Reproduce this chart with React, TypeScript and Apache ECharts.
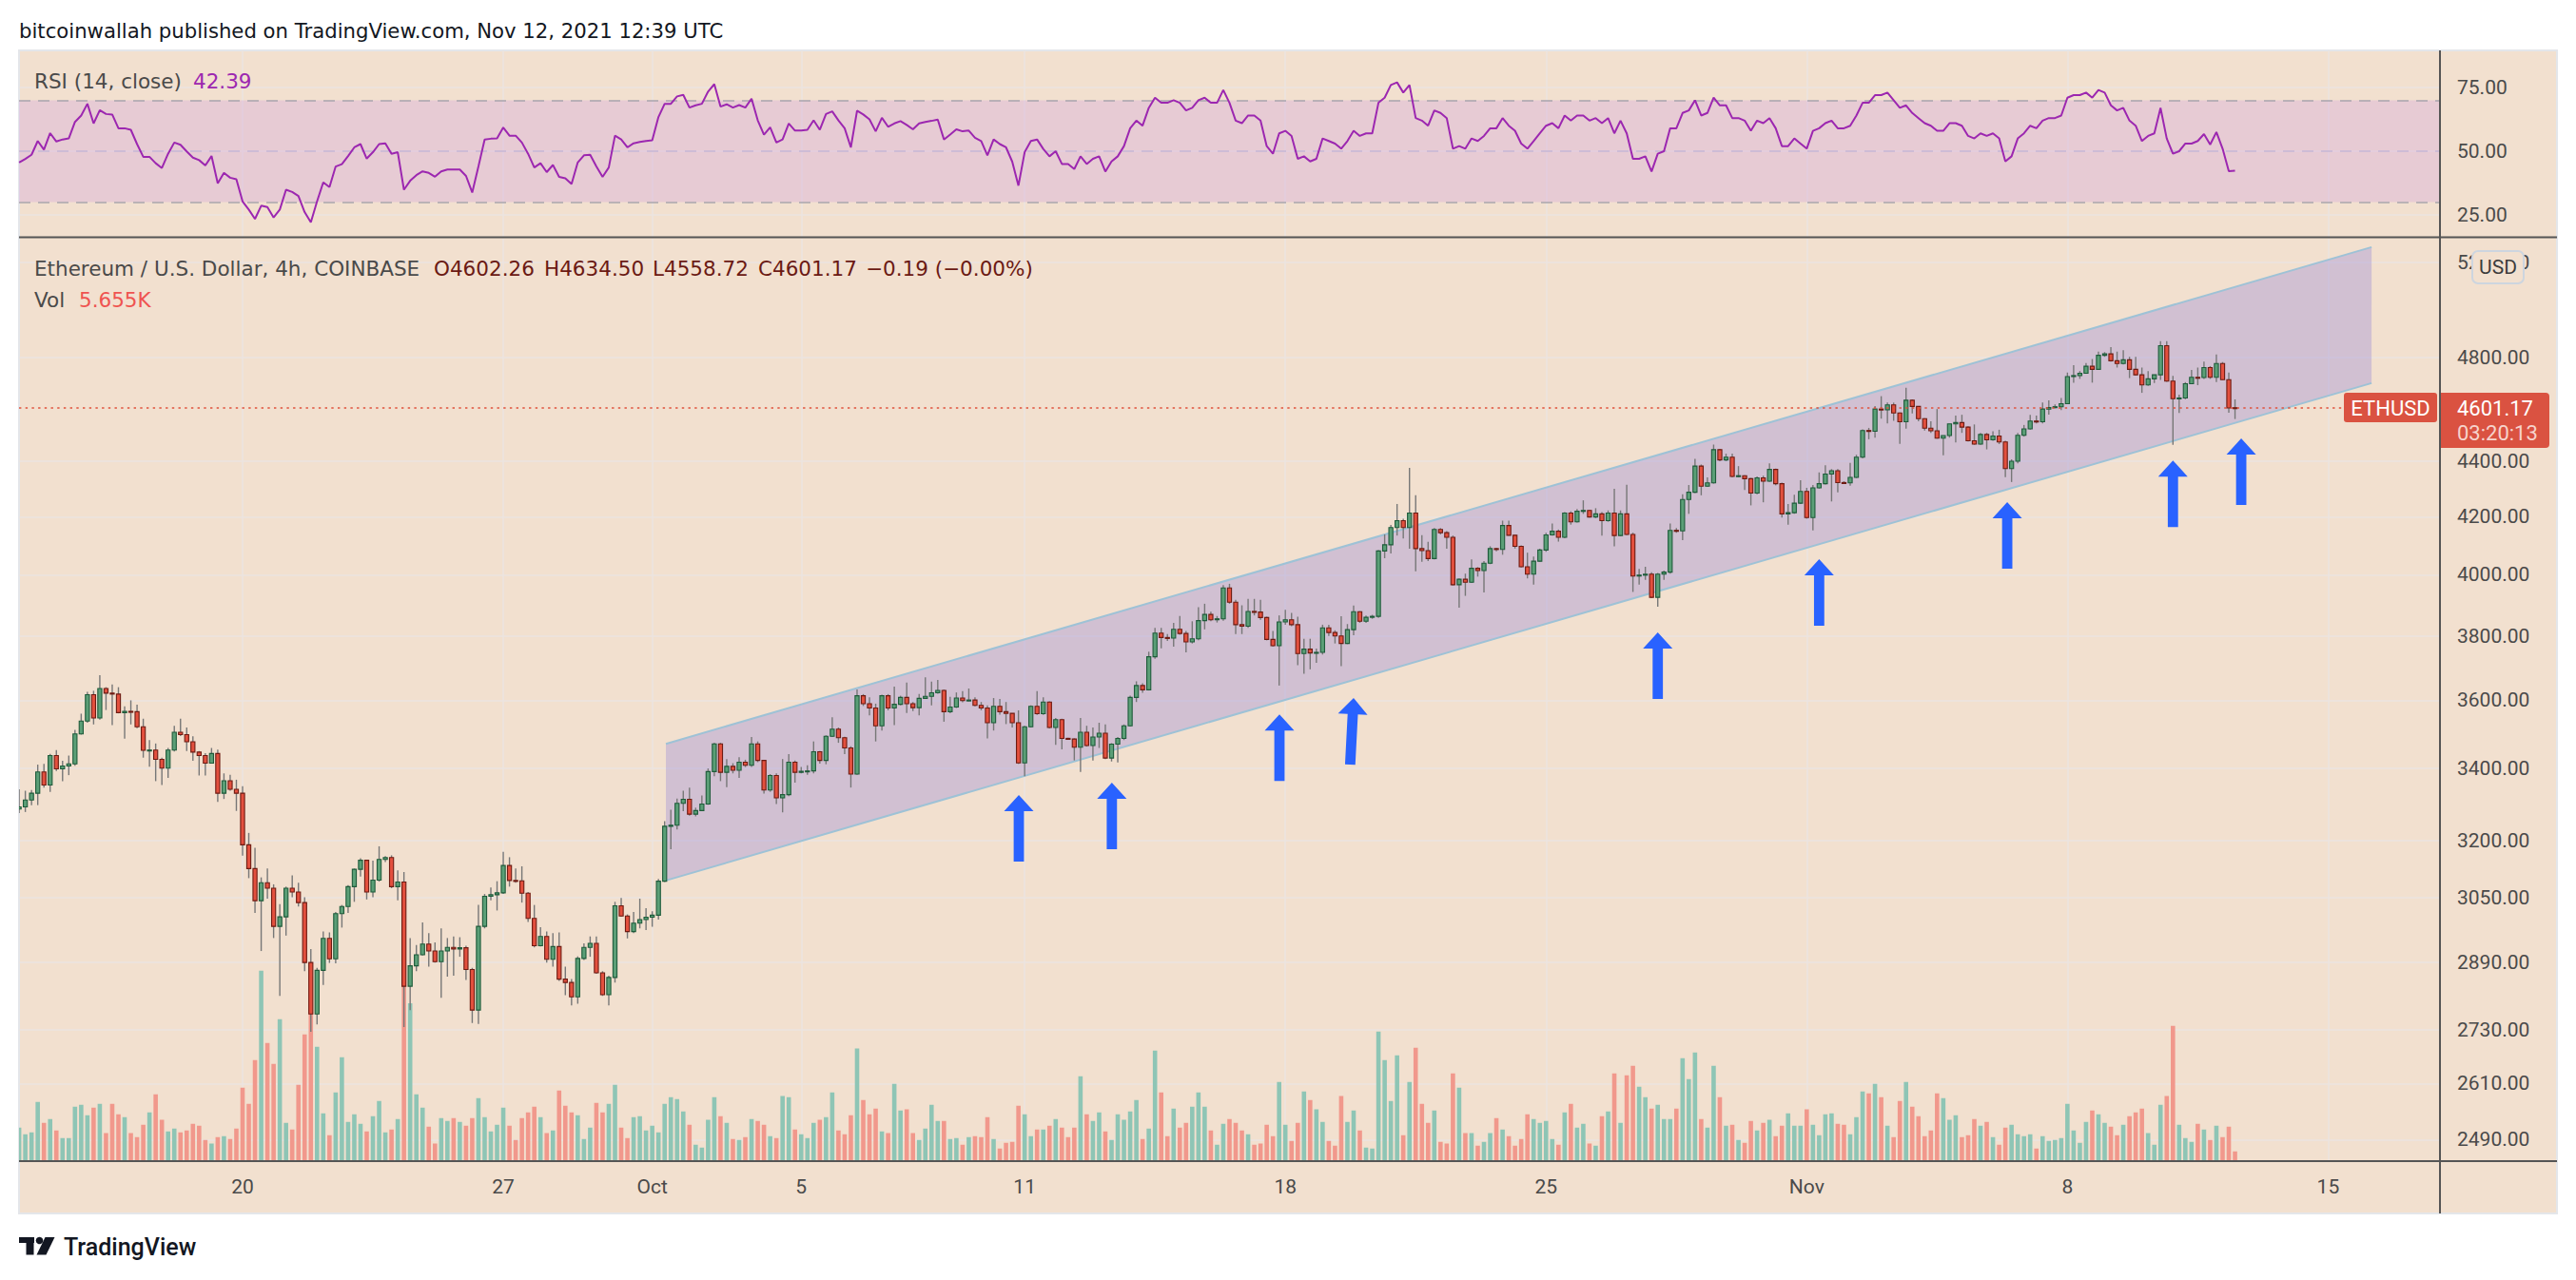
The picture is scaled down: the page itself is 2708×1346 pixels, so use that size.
import React, { useEffect, useRef } from "react";
import * as echarts from "echarts";

// ---------- data ----------
const START_UTC = Date.UTC(2021, 8, 14, 0, 0); // first 4h bar
const BAR_MS = 4 * 3600 * 1000;

// [open, high, low, close] per 4h bar (ETH/USD, Coinbase)
const ohlc: number[][] = [
  [3286,3341,3275,3292],[3292,3337,3278,3311],[3311,3339,3297,3330],[3330,3411,3297,3390],[3390,3413,3346,3353],[3353,3442,3334,3437],
  [3437,3453,3393,3399],[3399,3422,3364,3407],[3407,3437,3381,3413],[3413,3512,3408,3500],[3500,3560,3498,3538],[3538,3626,3533,3617],
  [3617,3629,3528,3547],[3547,3677,3542,3636],[3636,3640,3571,3622],[3622,3648,3526,3619],[3619,3640,3561,3563],[3563,3582,3486,3567],
  [3567,3600,3528,3566],[3566,3587,3517,3521],[3521,3545,3431,3452],[3452,3482,3405,3453],[3453,3472,3364,3426],[3426,3431,3353,3401],
  [3401,3459,3373,3453],[3453,3524,3449,3505],[3505,3545,3494,3498],[3498,3519,3450,3477],[3477,3493,3422,3447],[3447,3450,3380,3437],
  [3437,3444,3380,3415],[3415,3459,3414,3443],[3443,3454,3306,3330],[3330,3386,3314,3365],[3365,3382,3337,3341],[3341,3368,3281,3330],
  [3330,3350,3160,3189],[3189,3221,3101,3126],[3126,3181,3012,3043],[3043,3103,2917,3089],[3089,3126,3048,3075],[3075,3085,2949,2978],
  [2978,3034,2809,3002],[3002,3079,2955,3075],[3075,3108,3052,3065],[3065,3089,3028,3038],[3038,3052,2868,2889],[2889,2922,2726,2767],
  [2767,2876,2743,2870],[2870,2965,2835,2948],[2948,2963,2888,2898],[2898,3014,2887,3010],[3010,3032,2975,3028],[3028,3083,3012,3079],
  [3079,3126,3040,3124],[3124,3153,3105,3148],[3148,3149,3046,3065],[3065,3147,3052,3096],[3096,3185,3092,3150],[3150,3159,3143,3155],
  [3155,3161,3075,3079],[3079,3121,3044,3091],[3091,3117,2737,2832],[2832,2949,2776,2881],[2881,2932,2868,2908],[2908,2988,2906,2934],
  [2934,2961,2879,2917],[2917,2938,2889,2891],[2891,2973,2805,2917],[2917,2949,2855,2926],[2926,2953,2857,2922],[2922,2951,2903,2925],
  [2925,2930,2847,2872],[2872,2876,2746,2776],[2776,3032,2744,2978],[2978,3060,2973,3054],[3054,3077,3044,3058],[3058,3093,3018,3063],
  [3063,3170,3060,3134],[3134,3156,3079,3095],[3095,3126,3089,3094],[3094,3132,3038,3062],[3062,3065,2989,2998],[2998,3032,2926,2930],
  [2930,2976,2928,2953],[2953,2965,2889,2897],[2897,2961,2879,2928],[2928,2963,2845,2849],[2849,2879,2811,2841],[2841,2849,2787,2807],
  [2807,2904,2791,2899],[2899,2936,2895,2926],[2926,2953,2903,2936],[2936,2953,2862,2864],[2864,2868,2809,2812],[2812,2857,2787,2853],
  [2853,3040,2841,3030],[3030,3050,3002,3004],[3004,3008,2948,2965],[2965,3014,2961,2986],[2986,3048,2973,2995],[2995,3024,2969,3001],
  [3001,3016,2977,3006],[3006,3099,2995,3093],[3093,3253,3091,3239],[3239,3284,3177,3242],[3242,3315,3230,3302],[3302,3337,3280,3313],
  [3313,3346,3268,3272],[3272,3290,3266,3282],[3282,3324,3280,3300],[3300,3400,3298,3391],[3391,3474,3378,3471],[3471,3474,3364,3389],
  [3389,3427,3347,3406],[3406,3415,3386,3395],[3395,3432,3373,3418],[3418,3425,3404,3409],[3409,3491,3404,3471],[3471,3478,3418,3423],
  [3423,3425,3329,3339],[3339,3384,3334,3380],[3380,3386,3300,3317],[3317,3427,3277,3326],[3326,3441,3322,3418],[3418,3423,3360,3389],
  [3389,3404,3386,3392],[3392,3409,3382,3393],[3393,3478,3386,3448],[3448,3450,3414,3423],[3423,3496,3412,3493],[3493,3549,3491,3514],
  [3514,3519,3474,3489],[3489,3492,3441,3459],[3459,3464,3346,3384],[3384,3633,3382,3614],[3614,3619,3583,3590],[3590,3609,3555,3577],
  [3577,3590,3478,3524],[3524,3617,3510,3614],[3614,3619,3570,3577],[3577,3642,3526,3588],[3588,3614,3585,3609],[3609,3654,3562,3590],
  [3590,3595,3568,3578],[3578,3619,3555,3606],[3606,3670,3604,3612],[3612,3657,3585,3623],[3623,3662,3620,3630],[3630,3633,3536,3566],
  [3566,3611,3561,3580],[3580,3624,3577,3607],[3607,3628,3594,3599],[3599,3636,3597,3601],[3601,3609,3582,3585],[3585,3595,3570,3577],
  [3577,3585,3487,3533],[3533,3607,3510,3582],[3582,3604,3557,3566],[3566,3595,3529,3561],[3561,3561,3519,3533],[3533,3570,3413,3416],
  [3416,3524,3378,3521],[3521,3585,3519,3582],[3582,3628,3556,3560],[3560,3609,3556,3595],[3595,3597,3516,3519],[3519,3547,3468,3542],
  [3542,3545,3455,3487],[3487,3489,3483,3485],[3485,3487,3423,3461],[3461,3547,3390,3505],[3505,3524,3463,3466],[3466,3519,3423,3491],
  [3491,3533,3459,3502],[3502,3528,3427,3430],[3430,3473,3420,3470],[3470,3491,3417,3487],[3487,3528,3482,3524],[3524,3614,3522,3609],
  [3609,3658,3595,3645],[3645,3652,3623,3632],[3632,3750,3630,3734],[3734,3826,3728,3809],[3809,3826,3761,3795],[3795,3806,3784,3793],
  [3793,3842,3766,3821],[3821,3864,3804,3808],[3808,3816,3748,3781],[3781,3847,3776,3791],[3791,3893,3786,3849],[3849,3904,3821,3869],
  [3869,3878,3847,3852],[3852,3864,3843,3855],[3855,3966,3849,3956],[3956,3970,3904,3909],[3909,3917,3806,3836],[3836,3899,3806,3831],
  [3831,3920,3826,3879],[3879,3920,3866,3877],[3877,3917,3852,3859],[3859,3862,3786,3789],[3789,3816,3766,3769],[3769,3866,3645,3845],
  [3845,3884,3836,3852],[3852,3874,3831,3836],[3836,3862,3708,3744],[3744,3791,3681,3758],[3758,3791,3695,3746],[3746,3760,3715,3748],
  [3748,3836,3741,3826],[3826,3836,3800,3811],[3811,3818,3776,3800],[3800,3863,3705,3776],[3776,3838,3774,3820],[3820,3898,3802,3878],
  [3878,3880,3842,3847],[3847,3866,3842,3860],[3860,3868,3855,3863],[3863,4084,3858,4081],[4081,4138,4056,4102],[4102,4171,4072,4162],
  [4162,4245,4134,4186],[4186,4193,4124,4162],[4162,4376,4089,4213],[4213,4276,4012,4089],[4089,4135,4044,4082],[4082,4112,4046,4055],
  [4055,4160,4052,4155],[4155,4160,4138,4144],[4144,4149,4089,4128],[4128,4134,3964,3967],[3967,3988,3891,3985],[3985,4004,3930,3975],
  [3975,4052,3973,4022],[4022,4026,3994,4014],[4014,4046,3941,4039],[4039,4097,4036,4089],[4089,4092,4080,4086],[4086,4186,4068,4169],
  [4169,4186,4134,4135],[4135,4137,4089,4097],[4097,4100,4025,4027],[4027,4075,3988,4002],[4002,4062,3967,4046],[4046,4089,4044,4084],
  [4084,4144,4078,4136],[4136,4176,4134,4149],[4149,4155,4113,4128],[4128,4216,4125,4213],[4213,4219,4172,4182],[4182,4227,4179,4219],
  [4219,4258,4210,4222],[4222,4224,4197,4199],[4199,4230,4195,4210],[4210,4216,4134,4186],[4186,4222,4182,4213],[4213,4299,4097,4134],
  [4134,4222,4132,4210],[4210,4314,4135,4138],[4138,4144,3943,3996],[3996,4020,3967,3999],[3999,4027,3983,4002],[4002,4009,3922,3925],
  [3925,4006,3894,4002],[4002,4014,3983,4009],[4009,4176,4004,4152],[4152,4160,4144,4150],[4150,4280,4118,4261],[4261,4313,4210,4287],
  [4287,4409,4284,4382],[4382,4388,4276,4309],[4309,4341,4306,4321],[4321,4462,4318,4443],[4443,4446,4400,4405],[4405,4428,4400,4415],
  [4415,4428,4341,4344],[4344,4382,4341,4347],[4347,4349,4295,4336],[4336,4339,4240,4284],[4284,4344,4280,4339],[4339,4347,4251,4327],
  [4327,4392,4324,4370],[4370,4373,4312,4318],[4318,4322,4197,4210],[4210,4245,4172,4214],[4214,4278,4210,4248],[4248,4330,4245,4290],
  [4290,4303,4193,4197],[4197,4313,4152,4303],[4303,4359,4300,4318],[4318,4385,4315,4353],[4353,4371,4254,4365],[4365,4371,4287,4322],
  [4322,4327,4318,4321],[4321,4394,4311,4341],[4341,4424,4338,4415],[4415,4519,4411,4515],[4515,4525,4482,4512],[4512,4609,4488,4597],
  [4597,4647,4560,4594],[4594,4622,4542,4613],[4613,4622,4552,4582],[4582,4584,4465,4548],[4548,4680,4522,4631],[4631,4634,4580,4607],
  [4607,4609,4550,4560],[4560,4562,4515,4524],[4524,4550,4506,4514],[4514,4597,4484,4486],[4486,4496,4422,4496],[4496,4540,4488,4540],
  [4540,4572,4470,4545],[4545,4575,4506,4528],[4528,4531,4474,4476],[4476,4538,4461,4464],[4464,4506,4461,4500],[4500,4506,4444,4480],
  [4480,4512,4476,4494],[4494,4518,4464,4472],[4472,4476,4342,4373],[4373,4407,4324,4400],[4400,4506,4392,4497],[4497,4536,4492,4521],
  [4521,4575,4518,4551],[4551,4572,4542,4548],[4548,4622,4542,4597],[4597,4631,4576,4603],[4603,4615,4600,4606],[4606,4640,4593,4618],
  [4618,4740,4616,4724],[4724,4769,4700,4728],[4728,4746,4715,4737],[4737,4778,4735,4765],[4765,4794,4700,4753],[4753,4824,4750,4809],
  [4809,4822,4803,4815],[4815,4842,4784,4787],[4787,4824,4760,4776],[4776,4830,4772,4791],[4791,4803,4718,4753],[4753,4803,4728,4731],
  [4731,4760,4660,4691],[4691,4746,4687,4715],[4715,4732,4699,4731],[4731,4867,4711,4848],[4848,4867,4703,4706],[4706,4727,4461,4637],
  [4637,4653,4582,4640],[4640,4702,4635,4696],[4696,4750,4694,4721],[4721,4760,4690,4720],[4720,4784,4715,4760],[4760,4766,4715,4721],
  [4721,4812,4702,4776],[4776,4782,4711,4712],[4712,4740,4583,4601.36],[4602.26,4634.5,4558.72,4601.17],
];

// volume per bar, thousands of ETH
const volumeK: number[] = [
  19.7,15.8,16.9,35.0,22.6,24.8, 18.0,13.5,13.5,32.1,33.3,27.1, 31.6,33.8,16.4,33.8,27.6,25.9, 16.4,14.1,21.4,28.8,39.5,24.3,
  17.5,19.2,16.9,18.0,22.0,20.9, 12.4,10.2,14.1,14.7,13.0,19.2, 43.4,33.8,59.8,112.8,69.9,57.5, 84.0,22.6,18.6,45.1,75.0,109.4,
  67.7,28.2,15.2,40.6,61.5,23.1, 27.6,22.0,17.5,26.5,35.5,16.9, 18.6,24.8,106.6,93.4,39.5,31.6, 20.3,10.2,25.4,23.7,25.4,23.1,
  20.9,25.4,37.2,25.9,17.5,21.4, 31.6,20.9,12.4,25.4,28.8,32.1, 25.9,16.4,18.0,41.7,32.7,28.8, 27.1,13.0,19.7,34.4,28.8,33.8,
  45.1,19.7,13.5,25.9,26.5,18.0, 20.9,16.9,33.8,37.8,36.7,29.3, 21.4,9.6,7.9,24.3,37.8,26.5, 22.6,13.0,12.4,14.1,24.8,23.7,
  21.4,14.7,13.5,38.4,37.8,18.6, 15.8,13.5,22.6,24.3,25.9,40.6, 18.0,15.8,27.1,66.6,36.1,27.6, 31.0,17.5,16.4,45.7,29.9,30.5,
  16.4,12.4,19.2,33.3,23.7,23.7, 13.0,13.5,9.6,14.1,14.7,14.1, 25.9,13.0,7.3,10.7,11.3,32.7, 27.6,14.7,18.6,18.6,20.9,24.8,
  19.7,14.1,19.7,50.2,27.6,23.7, 28.8,17.5,12.4,27.6,24.3,29.3, 36.1,13.0,19.2,65.4,40.6,14.7, 31.0,19.7,22.6,32.1,40.6,32.1,
  18.0,9.6,22.0,24.8,22.6,18.0, 15.8,9.6,10.2,21.4,14.7,46.8, 21.4,11.8,22.6,41.2,36.1,30.5, 23.1,11.8,9.0,38.4,23.1,29.9,
  18.0,7.9,7.3,76.7,59.8,35.5, 62.6,15.2,46.8,67.1,33.8,22.6, 29.9,11.3,10.2,51.9,43.4,16.4, 16.4,9.0,11.3,16.4,25.4,18.6,
  14.7,9.0,13.0,27.6,24.8,22.6, 23.7,13.0,9.6,28.8,33.8,19.7, 22.0,10.2,9.0,26.5,29.3,51.9, 22.6,50.8,56.4,44.0,37.8,31.0,
  33.3,24.8,24.8,31.0,60.9,48.5, 64.3,24.8,19.7,56.4,37.8,20.9, 21.4,12.4,10.7,23.7,18.0,22.6, 24.3,14.7,20.9,28.2,20.9,20.9,
  30.5,21.4,15.2,27.6,28.2,22.0, 21.4,15.8,25.9,41.2,40.0,45.7, 37.8,20.9,14.1,35.5,46.8,32.1, 26.5,14.7,18.0,40.0,37.2,24.3,
  27.1,14.1,15.2,24.8,20.9,23.1, 14.1,9.6,19.7,21.4,15.8,14.7, 15.8,7.3,14.7,11.8,12.4,13.5, 33.8,18.0,10.7,23.1,29.9,27.6,
  22.6,20.3,15.2,21.4,26.5,28.8, 31.0,16.4,9.6,33.3,38.4,80.1, 21.4,13.5,11.3,22.0,18.6,12.4, 20.9,14.1,20.3,5.655,
];

// RSI(14, close)
const rsi14: number[] = [
  45.6,47,48.6,54,50.6,57.1, 53.8,54.6,55,61.5,64,68.6, 60.9,66.1,64.6,64.4,59,59, 58.4,52.8,47.8,47.8,45.3,43.4,
  49,53.4,52.5,49.9,47.5,46.5, 44.4,48.1,37.4,41.5,39.6,39, 30.3,27.1,23.4,28.6,28.1,24, 27.1,34.9,34,32.4,26.1,22.1,
  30.3,37.8,35.9,44,44.9,48.1, 51.5,52.8,47.1,49.6,52.8,53.1, 49,49.6,34.9,38.4,40.6,42.1, 41.5,40,42.1,42.8,42.8,42.8,
  40.3,33.8,44,54.6,54.9,55, 59.3,56.1,56.1,53.4,49,43.6, 45.3,41.8,44.6,39.9,39.4,37.1, 45.6,48.4,48.6,44,39.9,43.6,
  56.1,54.6,51.5,53.1,53.6,54, 54.3,63.4,68.6,68.6,71.5,72.1, 67.1,68,68.6,73.4,76.3,67.5, 68.4,67.1,68.1,67.1,70.6,62.1,
  56.5,59.4,53.4,54.6,60.9,58.1, 58.1,58.4,62.1,58.4,64.6,65.6, 62.1,59,51.5,65.9,64.4,62.5, 57.8,63.1,59.6,60.9,61.8,60.3,
  58.6,60.9,61.5,61.9,62.4,54.6, 56.5,58.6,57.8,58.1,55.3,54, 48.4,54.6,52.8,51.5,45.9,36.5, 49.6,54,54.6,50.9,48,50,
  45,45,43,48,45,47, 48,42,46,48,52,59, 62,60,67,71,69,69, 70,69,66,67,70,71,
  69,69,74,69,62,61, 64,64,62,52,49,57, 58,56,47,48,46,47, 55,54,53,51,54,58,
  56,57,57,69,71,76, 77,73,76,63,62,60, 66,65,63,51,52,51, 55,54,56,59,59,63,
  60,58,53,51,54,57, 60,61,59,64,62,64, 64,62,63,61,63,57, 62,57,47,47,48,42,
  49,50,59,59,65,66, 70,64,65,71,68,68, 63,63,62,58,62,61, 63,59,52,52,55,53,
  51,58,59,61,62,59, 59,60,64,69,69,72, 72,73,70,67,68,65, 63,61,60,58,58,61,
  61,60,56,55,57,56, 57,55,46,48,55,57, 60,59,62,63,63,64, 71,72,72,73,71,74,
  73,68,66,67,62,60, 54,56,57,67,55,49, 50,53,53,54,56.7,52.6, 57.5,51,42.2,42.39,
];

const priceTicks = [2490, 2610, 2730, 2890, 3050, 3200, 3400, 3600, 3800, 4000, 4200, 4400, 4800, 5200];
const rsiTicks = [25, 50, 75];
const rsiBands = [30, 50, 70];
const dateTicks: number[][] = [[8, 20], [8, 27], [9, 1], [9, 5], [9, 11], [9, 18], [9, 25], [10, 1], [10, 8], [10, 15]];
const monthNames = ["Jan", "Feb", "Mar", "Apr", "May", "Jun", "Jul", "Aug", "Sep", "Oct", "Nov", "Dec"];

// parallel channel drawing: bar index and prices of its corners
const channelBars = [104.2, 379.0];
const channelUpper = [3471, 5266];
const channelLower = [3095, 4698];

// blue arrows: bar index, price at arrow tip, tilt (deg)
const arrowBars = [161.06, 176.05, 203.05, 215.0, 264.0, 290.0, 320.3, 347.0, 358.0];
const arrowTips = [3325, 3360, 3558, 3607, 3811, 4053, 4252, 4403, 4485];
const arrowTilt = [0, 0, 0, -3, 0, 0, 0, 0, 0];

const symbolName = "ETHUSD";
const countdown = "03:20:13";
const volLast = "5.655K";
const rsiLast = "42.39";

// ---------- styling ----------
const BG = "#f2e0cf";
const GRID_C = "#ebe5e1";
const AXIS_TXT = "#4a4a4a";
const UP = "#5b9f77";
const UP_B = "#1e5b3a";
const DN = "#e3503e";
const DN_B = "#6e1b12";
const WICK = "#777777";
const VOL_UP = "#8ec5b5";
const VOL_DN = "#f1988c";
const RSI_C = "#9c27b0";
const LABEL_RED = "#da5241";
const FONT = 'Roboto, "DejaVu Sans", sans-serif';
const LEGEND_FONT = '"DejaVu Sans", Verdana, sans-serif';

const LN4800 = Math.log(4800);
const PX_PER_LN = 1253;
const MAIN_TOP = 251;
const MAIN_BOT = 1220.7;
const LN_MAX = LN4800 + (376 - MAIN_TOP) / PX_PER_LN;
const LN_MIN = LN4800 - (MAIN_BOT - 376) / PX_PER_LN;

const tOf = (bar: number) => START_UTC + bar * BAR_MS;

function buildOption(): any {
  const n = ohlc.length;
  const last = ohlc[n - 1];
  const prev = ohlc[n - 2];
  const lastPrice = last[3];
  const chg = lastPrice - prev[3];
  const chgPct = (chg / prev[3]) * 100;
  const fmtSigned = (v: number, d: number) => (v < 0 ? "\u2212" : "+") + Math.abs(v).toFixed(d);

  const xMin = tOf(-0.0153);
  const xMax = tOf(390.02);
  const dateMs = dateTicks.map((d) => Date.UTC(2021, d[0], d[1]));
  const lnTicks = priceTicks.map((p) => Math.log(p));

  const candleData = ohlc.map((c, i) => [tOf(i), Math.log(c[0]), Math.log(c[1]), Math.log(c[2]), Math.log(c[3])]);
  const volData = volumeK.map((v, i) => [tOf(i), v, ohlc[i] && ohlc[i][3] >= ohlc[i][0] ? 1 : 0]);
  const rsiData = rsi14.map((v, i) => [tOf(i), v]);
  const chData = [[tOf(channelBars[0]), Math.log(channelUpper[0]), Math.log(channelLower[0]), tOf(channelBars[1]), Math.log(channelUpper[1]), Math.log(channelLower[1])]];
  const arrowData = arrowBars.map((b, i) => [tOf(b), Math.log(arrowTips[i]), arrowTilt[i]]);

  const txt = (x: number, y: number, text: string, fill: string, size = 21.5, weight: any = "normal", family = LEGEND_FONT) => ({
    type: "text",
    x,
    y,
    z: 100,
    silent: true,
    style: { text, fill, fontSize: size, fontFamily: family, fontWeight: weight, textAlign: "left", textVerticalAlign: "middle", align: "left", verticalAlign: "middle" },
  });
  const sep = (x1: number, y1: number, x2: number, y2: number) => ({
    type: "line",
    z: 100,
    silent: true,
    shape: { x1, y1, x2, y2 },
    style: { stroke: "#555555", lineWidth: 2 },
  });

  const ohlcColor = "#6b1a14";
  const graphic: any[] = [
    txt(20, 32, "bitcoinwallah published on TradingView.com, Nov 12, 2021 12:39 UTC", "#131722", 21.2),
    txt(36, 85, "RSI (14, close)", AXIS_TXT),
    txt(203, 85, rsiLast, RSI_C),
    txt(36, 282, "Ethereum / U.S. Dollar, 4h, COINBASE", AXIS_TXT),
    txt(456, 282, "O" + last[0].toFixed(2), ohlcColor),
    txt(572, 282, "H" + last[1].toFixed(2), ohlcColor),
    txt(686, 282, "L" + last[2].toFixed(2), ohlcColor),
    txt(797, 282, "C" + last[3].toFixed(2), ohlcColor),
    txt(910, 282, fmtSigned(chg, 2) + " (" + fmtSigned(chgPct, 2) + "%)", ohlcColor),
    txt(36, 315, "Vol", AXIS_TXT),
    txt(83, 315, volLast, "#ef5350"),
    sep(20, 249.5, 2688, 249.5),
    sep(2565, 53, 2565, 1276),
    sep(20, 1221, 2688, 1221),
    {
      type: "rect",
      z: 101,
      silent: true,
      shape: { x: 2599, y: 264, width: 54, height: 34, r: 6 },
      style: { fill: BG, stroke: "#cdd5df", lineWidth: 2 },
    },
    {
      type: "text",
      z: 102,
      silent: true,
      x: 2626,
      y: 281,
      style: { text: "USD", fill: "#3c3c3c", fontSize: 21, fontFamily: FONT, textAlign: "center", textVerticalAlign: "middle", align: "center", verticalAlign: "middle" },
    },
    // TradingView logo
    { type: "rect", z: 100, silent: true, shape: { x: 20, y: 1301, width: 16, height: 6 }, style: { fill: "#131722" } },
    { type: "rect", z: 100, silent: true, shape: { x: 27.5, y: 1301, width: 8, height: 18.5 }, style: { fill: "#131722" } },
    { type: "circle", z: 100, silent: true, shape: { cx: 41.5, cy: 1304.5, r: 3.8 }, style: { fill: "#131722" } },
    {
      type: "polygon",
      z: 100,
      silent: true,
      shape: { points: [[47.5, 1301], [57.5, 1301], [48.5, 1319.5], [38.5, 1319.5]] },
      style: { fill: "#131722" },
    },
    txt(67, 1311, "TradingView", "#131722", 25, 500, FONT),
  ];

  return {
    animation: false,
    backgroundColor: "transparent",
    textStyle: { fontFamily: FONT },
    graphic,
    grid: [
      { left: 20, top: 53, width: 2545, height: 196, containLabel: false },
      { left: 20, top: MAIN_TOP, width: 2545, height: MAIN_BOT - MAIN_TOP, containLabel: false },
    ],
    xAxis: [
      {
        type: "value",
        gridIndex: 0,
        min: xMin,
        max: xMax,
        axisLine: { show: false },
        axisTick: { show: false, customValues: dateMs },
        axisLabel: { show: false, customValues: dateMs },
        splitLine: { show: true, lineStyle: { color: GRID_C, width: 1.5 } },
      },
      {
        type: "value",
        gridIndex: 1,
        min: xMin,
        max: xMax,
        axisLine: { show: false },
        axisTick: { show: false, customValues: dateMs },
        axisLabel: {
          show: true,
          customValues: dateMs,
          margin: 17,
          color: AXIS_TXT,
          fontSize: 21,
          fontFamily: FONT,
          formatter: (v: number) => {
            const d = new Date(v);
            return d.getUTCDate() === 1 ? monthNames[d.getUTCMonth()] : String(d.getUTCDate());
          },
        },
        splitLine: { show: true, lineStyle: { color: GRID_C, width: 1.5 } },
      },
    ],
    yAxis: [
      {
        type: "value",
        gridIndex: 0,
        position: "right",
        min: 50 - (249 - 159) / 2.68,
        max: 50 + (159 - 53) / 2.68,
        axisLine: { show: false },
        axisTick: { show: false, customValues: rsiTicks },
        axisLabel: { customValues: rsiTicks, margin: 18, color: AXIS_TXT, fontSize: 21, fontFamily: FONT, formatter: (v: number) => v.toFixed(2) },
        splitLine: { show: true, lineStyle: { color: GRID_C, width: 1.5 } },
      },
      {
        type: "value",
        gridIndex: 1,
        position: "right",
        min: LN_MIN,
        max: LN_MAX,
        axisLine: { show: false },
        axisTick: { show: false, customValues: lnTicks },
        axisLabel: { customValues: lnTicks, margin: 18, color: AXIS_TXT, fontSize: 21, fontFamily: FONT, formatter: (v: number) => Math.exp(v).toFixed(2) },
        splitLine: { show: true, lineStyle: { color: GRID_C, width: 1.5 } },
      },
      {
        type: "value",
        gridIndex: 1,
        position: "right",
        min: 0,
        max: (MAIN_BOT - MAIN_TOP) * 0.564,
        show: false,
        splitLine: { show: false },
      },
    ],
    series: [
      {
        type: "line",
        name: "RSI",
        xAxisIndex: 0,
        yAxisIndex: 0,
        data: rsiData,
        symbol: "none",
        showSymbol: false,
        z: 5,
        lineStyle: { color: RSI_C, width: 2 },
        markArea: {
          silent: true,
          itemStyle: { color: "rgba(217,173,220,0.42)" },
          data: [[{ yAxis: rsiBands[0] }, { yAxis: rsiBands[2] }]],
        },
        markLine: {
          silent: true,
          symbol: ["none", "none"],
          label: { show: false },
          data: [
            { yAxis: rsiBands[2], lineStyle: { color: "#a9a5ad", width: 1.5, type: [12, 8] } },
            { yAxis: rsiBands[1], lineStyle: { color: "#c6b7d4", width: 1.5, type: [12, 8] } },
            { yAxis: rsiBands[0], lineStyle: { color: "#a9a5ad", width: 1.5, type: [12, 8] } },
          ],
        },
      },
      {
        type: "custom",
        name: "channel",
        xAxisIndex: 1,
        yAxisIndex: 1,
        z: 1,
        silent: true,
        data: chData,
        encode: { x: [0, 3], y: [1, 2, 4, 5] },
        renderItem: (_p: any, api: any) => {
          const ul = api.coord([api.value(0), api.value(1)]);
          const ll = api.coord([api.value(0), api.value(2)]);
          const ur = api.coord([api.value(3), api.value(4)]);
          const lr = api.coord([api.value(3), api.value(5)]);
          return {
            type: "group",
            children: [
              { type: "polygon", shape: { points: [ul, ur, lr, ll] }, style: { fill: "rgba(160,146,214,0.40)" } },
              { type: "line", shape: { x1: ul[0], y1: ul[1], x2: ur[0], y2: ur[1] }, style: { stroke: "#9ec2d6", lineWidth: 2 } },
              { type: "line", shape: { x1: ll[0], y1: ll[1], x2: lr[0], y2: lr[1] }, style: { stroke: "#9ec2d6", lineWidth: 2 } },
            ],
          };
        },
      },
      {
        type: "custom",
        name: "volume",
        xAxisIndex: 1,
        yAxisIndex: 2,
        z: 2,
        silent: true,
        clip: true,
        data: volData,
        encode: { x: 0, y: 1 },
        renderItem: (_p: any, api: any) => {
          const top = api.coord([api.value(0), api.value(1)]);
          const base = api.coord([api.value(0), 0]);
          return {
            type: "rect",
            shape: { x: top[0] - 2.3, y: top[1], width: 4.6, height: base[1] - top[1] },
            style: { fill: api.value(2) ? VOL_UP : VOL_DN },
          };
        },
      },
      {
        type: "custom",
        name: "candles",
        xAxisIndex: 1,
        yAxisIndex: 1,
        z: 3,
        silent: true,
        clip: true,
        data: candleData,
        encode: { x: 0, y: [1, 2, 3, 4] },
        renderItem: (_p: any, api: any) => {
          const x = api.value(0);
          const o = api.value(1);
          const h = api.value(2);
          const l = api.value(3);
          const c = api.value(4);
          const up = c >= o;
          const pO = api.coord([x, o]);
          const pC = api.coord([x, c]);
          const pH = api.coord([x, Math.max(h, o, c)]);
          const pL = api.coord([x, Math.min(l, o, c)]);
          const top = Math.min(pO[1], pC[1]);
          const hh = Math.max(Math.abs(pO[1] - pC[1]), 1);
          return {
            type: "group",
            children: [
              { type: "line", shape: { x1: pO[0], y1: pH[1], x2: pO[0], y2: pL[1] }, style: { stroke: WICK, lineWidth: 1.4 } },
              {
                type: "rect",
                shape: { x: pO[0] - 2.1, y: top, width: 4.2, height: hh },
                style: { fill: up ? UP : DN, stroke: up ? UP_B : DN_B, lineWidth: 1.1 },
              },
            ],
          };
        },
      },
      {
        type: "custom",
        name: "lastPriceLine",
        xAxisIndex: 1,
        yAxisIndex: 1,
        z: 4,
        silent: true,
        data: [[xMin, xMax, Math.log(lastPrice)]],
        encode: { x: [0, 1], y: 2 },
        renderItem: (_p: any, api: any) => {
          const a = api.coord([api.value(0), api.value(2)]);
          const b = api.coord([api.value(1), api.value(2)]);
          return {
            type: "line",
            shape: { x1: a[0], y1: a[1], x2: b[0], y2: b[1] },
            style: { stroke: "#e0513d", lineWidth: 1.6, lineDash: [2.4, 4.3] },
          };
        },
      },
      {
        type: "custom",
        name: "arrows",
        xAxisIndex: 1,
        yAxisIndex: 1,
        z: 6,
        silent: true,
        data: arrowData,
        encode: { x: 0, y: 1 },
        renderItem: (_p: any, api: any) => {
          const p = api.coord([api.value(0), api.value(1)]);
          const tilt = (api.value(2) * Math.PI) / 180;
          return {
            type: "group",
            x: p[0],
            y: p[1],
            rotation: tilt,
            children: [
              {
                type: "polygon",
                shape: { points: [[0, 0], [15.5, 17], [5.4, 17], [5.4, 70], [-5.4, 70], [-5.4, 17], [-15.5, 17]] },
                style: { fill: "#2962ff" },
              },
            ],
          };
        },
      },
      {
        type: "custom",
        name: "priceLabels",
        xAxisIndex: 1,
        yAxisIndex: 1,
        z: 20,
        silent: true,
        clip: false,
        data: [[tOf(n - 1), Math.log(lastPrice)]],
        encode: { x: 0, y: 1 },
        renderItem: (params: any, api: any) => {
          const y = api.coord([api.value(0), api.value(1)])[1];
          const right = params.coordSys.x + params.coordSys.width;
          return {
            type: "group",
            children: [
              { type: "rect", shape: { x: right - 101, y: y - 16, width: 98, height: 31, r: 3 }, style: { fill: LABEL_RED } },
              {
                type: "text",
                x: right - 52,
                y: y,
                style: { text: symbolName, fill: "#ffffff", fontSize: 22, fontFamily: FONT, textAlign: "center", textVerticalAlign: "middle", align: "center", verticalAlign: "middle" },
              },
              { type: "rect", shape: { x: right, y: y - 16, width: 115, height: 58, r: [0, 4, 4, 0] }, style: { fill: LABEL_RED } },
              {
                type: "text",
                x: right + 18,
                y: y,
                style: { text: lastPrice.toFixed(2), fill: "#ffffff", fontSize: 22, fontFamily: FONT, textAlign: "left", textVerticalAlign: "middle", align: "left", verticalAlign: "middle" },
              },
              {
                type: "text",
                x: right + 18,
                y: y + 26,
                style: { text: countdown, fill: "#f6d3cc", fontSize: 22, fontFamily: FONT, textAlign: "left", textVerticalAlign: "middle", align: "left", verticalAlign: "middle" },
              },
            ],
          };
        },
      },
    ],
  };
}

export default function App() {
  const ref = useRef<HTMLDivElement>(null);
  useEffect(() => {
    document.body.style.margin = "0";
    if (!ref.current) return;
    const chart = echarts.init(ref.current, null, { renderer: "svg" });
    chart.setOption(buildOption());
    return () => chart.dispose();
  }, []);
  return (
    <div style={{ position: "relative", width: 2708, height: 1346, background: "#ffffff", overflow: "hidden" }}>
      <div
        style={{
          position: "absolute",
          left: 19,
          top: 52,
          width: 2670,
          height: 1225,
          background: BG,
          boxSizing: "border-box",
          border: "2px solid #e4e6ea",
        }}
      />
      <div ref={ref} style={{ position: "absolute", left: 0, top: 0, width: 2708, height: 1346 }} />
    </div>
  );
}
